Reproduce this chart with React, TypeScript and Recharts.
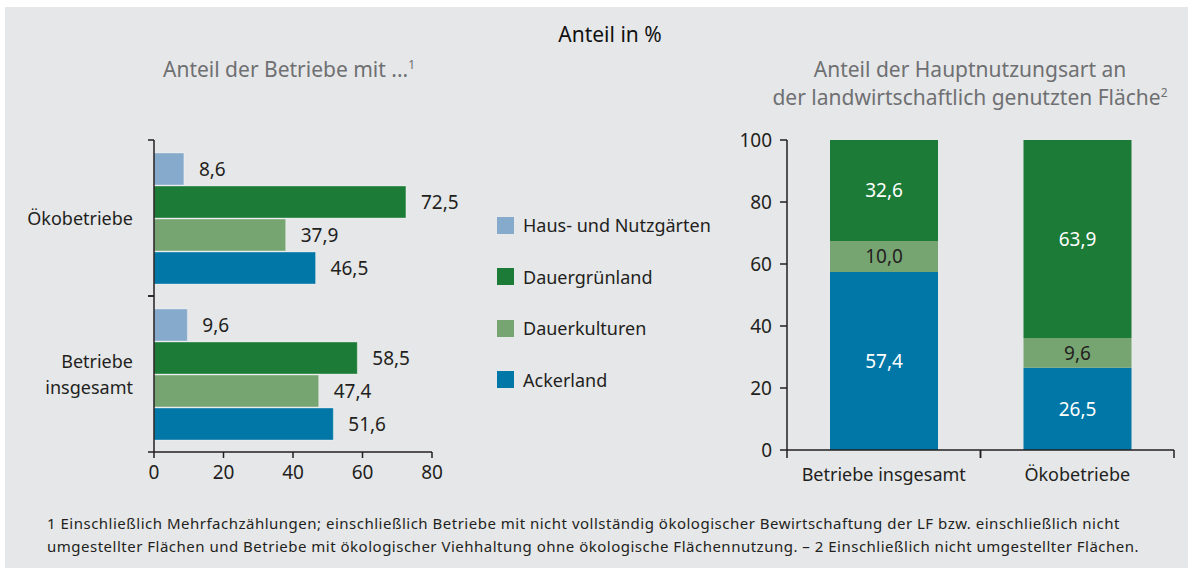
import React from 'react';
import { BarChart, Bar, XAxis, YAxis, LabelList } from 'recharts';

const FONT = '"Noto Sans", "Open Sans", sans-serif';
const TEXT = '#231f20';
const GRAY = '#6f7072';
const BG = '#e6e7e9';
const NUM = 19;
const CAT = 18;

const seriesNames = ['Haus- und Nutzgärten', 'Dauergrünland', 'Dauerkulturen', 'Ackerland'];
const seriesKeys = ['haus', 'gruen', 'kultur', 'acker'];
const seriesColors = ['#86aacb', '#1b7b37', '#77a572', '#0077a6'];

const leftCategories = ['Ökobetriebe', 'Betriebe insgesamt'];
const leftHaus = [8.6, 9.6];
const leftGruen = [72.5, 58.5];
const leftKultur = [37.9, 47.4];
const leftAcker = [46.5, 51.6];
const leftTicks = [0, 20, 40, 60, 80];

const rightCategories = ['Betriebe insgesamt', 'Ökobetriebe'];
const rightAcker = [57.4, 26.5];
const rightKultur = [10.0, 9.6];
const rightGruen = [32.6, 63.9];
const rightTicks = [0, 20, 40, 60, 80, 100];

const leftData = leftCategories.map((c, i) => ({
  name: c,
  haus: leftHaus[i],
  gruen: leftGruen[i],
  kultur: leftKultur[i],
  acker: leftAcker[i],
}));

const rightData = rightCategories.map((c, i) => ({
  name: c,
  acker: rightAcker[i],
  kultur: rightKultur[i],
  gruen: rightGruen[i],
}));

const fmt = (v: any) => Number(v).toFixed(1).replace('.', ',');

// Left chart geometry
const L_W = 460, L_H = 370;
const L_M = { top: 20, right: 28, bottom: 8, left: 0 };
const L_YW = 154, L_XH = 30;
const L_PLOT_H = L_H - L_M.top - L_M.bottom - L_XH;
const L_HALF = L_PLOT_H / leftCategories.length / 2;

// Right chart geometry
const R_W = 495, R_H = 370;
const R_M = { top: 20, right: 21, bottom: 8, left: 0 };
const R_YW = 87, R_XH = 32;
const R_PLOT_W = R_W - R_M.left - R_M.right - R_YW;
const R_HALF = R_PLOT_W / rightCategories.length / 2;

const LeftYTick = (props: any) => {
  const { x, y, payload } = props;
  const lines = String(payload.value).split(' ');
  const lh = 26;
  const start = y - ((lines.length - 1) * lh) / 2;
  return (
    <g>
      <line x1={x - 6} x2={x} y1={y - L_HALF} y2={y - L_HALF} stroke={TEXT} strokeWidth={1.5} />
      <line x1={x - 6} x2={x} y1={y + L_HALF} y2={y + L_HALF} stroke={TEXT} strokeWidth={1.5} />
      {lines.map((l, i) => (
        <text key={i} x={x - 21} y={start + i * lh} textAnchor="end" dominantBaseline="central"
          fontSize={CAT} fill={TEXT} fontFamily={FONT}>{l}</text>
      ))}
    </g>
  );
};

const RightXTick = (props: any) => {
  const { x, y, payload } = props;
  return (
    <g>
      <line x1={x - R_HALF} x2={x - R_HALF} y1={y} y2={y + 8} stroke={TEXT} strokeWidth={1.5} />
      <line x1={x + R_HALF} x2={x + R_HALF} y1={y} y2={y + 8} stroke={TEXT} strokeWidth={1.5} />
      <text x={x} y={y + 24} textAnchor="middle" dominantBaseline="central"
        fontSize={CAT} fill={TEXT} fontFamily={FONT}>{payload.value}</text>
    </g>
  );
};

export default function App() {
  return (
    <div style={{ position: 'absolute', left: 0, top: 0, width: 1195, height: 568, background: '#fff', overflow: 'hidden', fontFamily: FONT }}>
      <div style={{ position: 'absolute', left: 5, top: 7, width: 1183, height: 561, background: BG }} />

      <div style={{ position: 'absolute', left: 0, width: 1220, top: 20, textAlign: 'center', fontSize: 21, color: '#111' }}>
        Anteil in %
      </div>
      <div style={{ position: 'absolute', left: 163, top: 55, fontSize: 21, color: GRAY, whiteSpace: 'nowrap' }}>
        Anteil der Betriebe mit ...<sup style={{ fontSize: 12, lineHeight: 0 }}>1</sup>
      </div>
      <div style={{ position: 'absolute', left: 770, width: 400, top: 55, fontSize: 21, color: GRAY, textAlign: 'center', lineHeight: '28px', whiteSpace: 'nowrap' }}>
        Anteil der Hauptnutzungsart an<br />
        der landwirtschaftlich genutzten Fläche<sup style={{ fontSize: 12, lineHeight: 0 }}>2</sup>
      </div>

      <div style={{ position: 'absolute', left: 0, top: 120 }}>
        <BarChart width={L_W} height={L_H} data={leftData} layout="vertical" margin={L_M} barSize={32} barGap={1}>
          <XAxis type="number" domain={[0, 80]} ticks={leftTicks} height={L_XH}
            axisLine={{ stroke: TEXT, strokeWidth: 1.5 }} tickLine={{ stroke: TEXT, strokeWidth: 1.5 }}
            tickSize={6} tickMargin={8} tick={{ fill: TEXT, fontSize: NUM, fontFamily: FONT }} />
          <YAxis type="category" dataKey="name" width={L_YW} axisLine={{ stroke: TEXT, strokeWidth: 1.5 }}
            tickLine={false} tickSize={0} tickMargin={0} tick={<LeftYTick />} interval={0} />
          {seriesKeys.map((k, i) => (
            <Bar key={k} dataKey={k} fill={seriesColors[i]} stroke="rgba(255,255,255,0.35)" strokeWidth={1} isAnimationActive={false}>
              <LabelList dataKey={k} position="right" offset={15} formatter={fmt}
                style={{ fill: TEXT, fontSize: NUM, fontFamily: FONT }} />
            </Bar>
          ))}
        </BarChart>
      </div>

      <div style={{ position: 'absolute', left: 497, top: 214 }}>
        {seriesNames.map((n, i) => (
          <div key={n} style={{ display: 'flex', alignItems: 'center', height: 22, marginBottom: i < 3 ? 29.5 : 0 }}>
            <div style={{ width: 17, height: 17, background: seriesColors[i], marginRight: 9 }} />
            <span style={{ fontSize: CAT, color: TEXT, whiteSpace: 'nowrap' }}>{n}</span>
          </div>
        ))}
      </div>

      <div style={{ position: 'absolute', left: 700, top: 120 }}>
        <BarChart width={R_W} height={R_H} data={rightData} margin={R_M} barSize={108}>
          <XAxis type="category" dataKey="name" height={R_XH} axisLine={{ stroke: TEXT, strokeWidth: 1.5 }}
            tickLine={false} tickSize={0} tickMargin={0} tick={<RightXTick />} interval={0} />
          <YAxis type="number" domain={[0, 100]} ticks={rightTicks} width={R_YW}
            axisLine={{ stroke: TEXT, strokeWidth: 1.5 }} tickLine={{ stroke: TEXT, strokeWidth: 1.5 }}
            tickSize={7} tickMargin={8} tick={{ fill: TEXT, fontSize: NUM, fontFamily: FONT }} />
          <Bar dataKey="acker" stackId="s" fill={seriesColors[3]} isAnimationActive={false}>
            <LabelList dataKey="acker" position="center" formatter={fmt} style={{ fill: '#fff', fontSize: NUM, fontFamily: FONT }} />
          </Bar>
          <Bar dataKey="kultur" stackId="s" fill={seriesColors[2]} isAnimationActive={false}>
            <LabelList dataKey="kultur" position="center" formatter={fmt} style={{ fill: TEXT, fontSize: NUM, fontFamily: FONT }} />
          </Bar>
          <Bar dataKey="gruen" stackId="s" fill={seriesColors[1]} isAnimationActive={false}>
            <LabelList dataKey="gruen" position="center" formatter={fmt} style={{ fill: '#fff', fontSize: NUM, fontFamily: FONT }} />
          </Bar>
        </BarChart>
      </div>

      <div style={{ position: 'absolute', left: 47, top: 512, fontSize: 15, letterSpacing: 0.5, color: TEXT, lineHeight: '23px', whiteSpace: 'nowrap' }}>
        1 Einschließlich Mehrfachzählungen; einschließlich Betriebe mit nicht vollständig ökologischer Bewirtschaftung der LF bzw. einschließlich nicht<br />
        umgestellter Flächen und Betriebe mit ökologischer Viehhaltung ohne ökologische Flächennutzung. – 2 Einschließlich nicht umgestellter Flächen.
      </div>
    </div>
  );
}
